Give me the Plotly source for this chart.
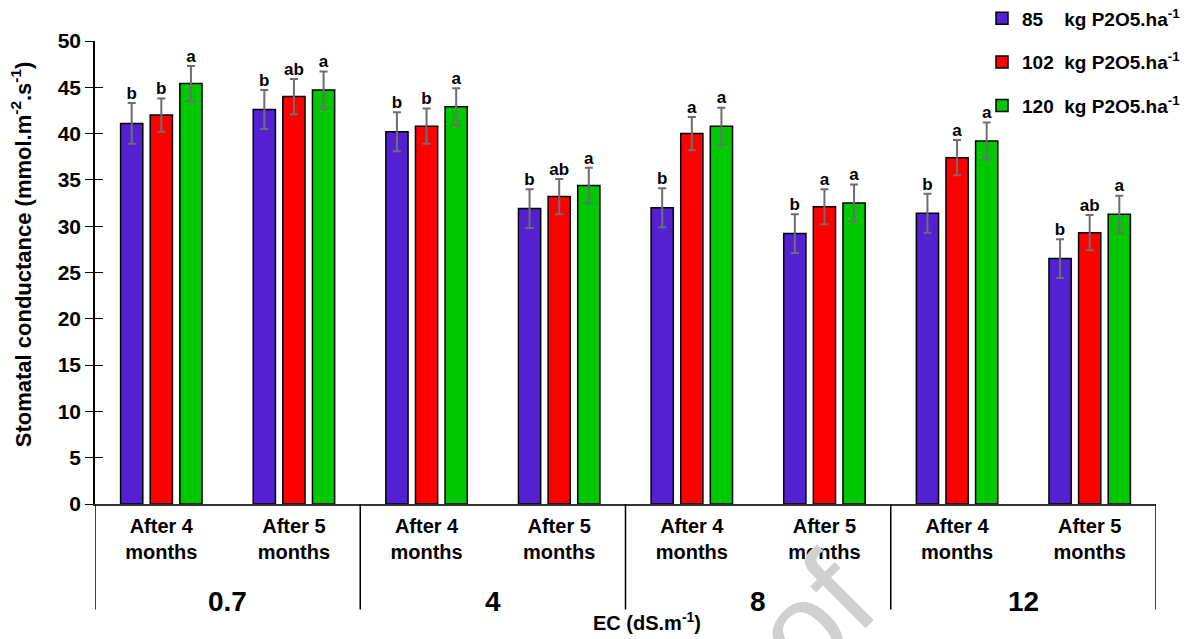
import plotly.graph_objects as go

groups = ["0.7", "4", "8", "12"]
periods = ["After 4<br>months", "After 5<br>months"]
series_names = ["85", "102", "120"]
colors = ["#5320D2", "#FF0000", "#00C800"]

vals_85 = [41.1, 42.6, 40.2, 31.9, 32.0, 29.2, 31.4, 26.5]
vals_102 = [42.0, 44.0, 40.8, 33.2, 40.0, 32.1, 37.4, 29.3]
vals_120 = [45.4, 44.7, 42.9, 34.4, 40.8, 32.5, 39.2, 31.3]

err_85 = [2.2, 2.1, 2.1, 2.1, 2.1, 2.1, 2.1, 2.1]
err_102 = [1.8, 1.9, 1.9, 1.9, 1.8, 1.9, 1.9, 1.9]
err_120 = [1.9, 2.0, 2.0, 1.9, 2.0, 2.0, 2.0, 2.0]

let_85 = ["b", "b", "b", "b", "b", "b", "b", "b"]
let_102 = ["b", "ab", "b", "ab", "a", "a", "a", "ab"]
let_120 = ["a", "a", "a", "a", "a", "a", "a", "a"]

yticks = [0, 5, 10, 15, 20, 25, 30, 35, 40, 45, 50]

FONT = "Liberation Sans, Arial, sans-serif"

cats = [f"{g}|{p}" for g in groups for p in periods]
ticktext = [p for g in groups for p in periods]

vals = [vals_85, vals_102, vals_120]
errs = [err_85, err_102, err_120]
lets = [let_85, let_102, let_120]

fig = go.Figure()
for i in range(3):
    pad = "\u00a0" * (4 if len(series_names[i]) == 2 else 2)
    fig.add_trace(go.Bar(
        x=cats, y=vals[i], name=series_names[i] + pad + "kg P2O5.ha<sup>-1</sup>",
        marker=dict(color=colors[i], line=dict(color="black", width=1.5)),
        error_y=dict(type="data", array=errs[i], visible=True, color="#6e6e6e", thickness=2, width=4),
        offsetgroup=str(i), legendgroup=str(i),
    ))
for i in range(3):
    fig.add_trace(go.Scatter(
        x=cats, y=[v + e for v, e in zip(vals[i], errs[i])], text=lets[i],
        mode="text", textposition="top center", offsetgroup=str(i),
        textfont=dict(family=FONT, size=17, color="black", weight=700),
        showlegend=False, hoverinfo="skip", cliponaxis=False,
    ))

fig.update_layout(
    width=1199, height=639,
    margin=dict(l=87, r=51, t=33, b=143, autoexpand=False),
    paper_bgcolor="white", plot_bgcolor="white",
    barmode="group", bargap=0.33, bargroupgap=0.25,
    scattermode="group", scattergap=0.33,
    font=dict(family=FONT, color="black"),
    showlegend=True,
    legend=dict(x=0.836, y=1.09, xanchor="left", yanchor="top",
                bgcolor="rgba(0,0,0,0)", tracegroupgap=16,
                font=dict(family=FONT, size=19, color="black", weight=700),
                itemwidth=30),
    xaxis=dict(type="category", categoryorder="array", categoryarray=cats,
               tickvals=cats, ticktext=ticktext, showline=True, linecolor="#333333",
               linewidth=1.5, ticks="", showgrid=False, range=[-0.5, 7.5],
               ticklabelstandoff=3,
               tickfont=dict(family=FONT, size=20, color="black", weight=700)),
    yaxis=dict(range=[0, 50], tickvals=yticks, showline=True, linecolor="black",
               linewidth=1.5, ticks="outside", ticklen=8, tickwidth=1.2, tickcolor="black",
               showgrid=False, zeroline=False,
               tickfont=dict(family=FONT, size=21, color="black", weight=700)),
    yaxis2=dict(range=[0, 50], tickvals=yticks, overlaying="y", side="left",
                ticks="inside", ticklen=8, tickwidth=1.2, tickcolor="black",
                showticklabels=False, showgrid=False, zeroline=False, showline=False),
)
fig.add_trace(go.Scatter(x=[cats[0]], y=[0], yaxis="y2", mode="markers",
                         marker=dict(opacity=0), showlegend=False, hoverinfo="skip"))

# faint diagonal watermark fragment
fig.add_annotation(x=0.677, xref="paper", y=-0.245, yref="paper", text="of",
                   textangle=-45, showarrow=False, xanchor="center", yanchor="middle",
                   font=dict(family=FONT, size=130, color="#d0d0d0"))

# group dividers below the axis
for xpos in [-0.5, 1.5, 3.5, 5.5, 7.5]:
    fig.add_shape(type="line", xref="x", yref="paper", x0=xpos, x1=xpos, y0=0, y1=-0.228,
                  line=dict(color="black", width=1.5))

# group labels
for gi, g in enumerate(groups):
    fig.add_annotation(x=gi * 2 + 0.5, xref="x", y=-0.21, yref="paper", text=g,
                       showarrow=False, yanchor="middle",
                       font=dict(family=FONT, size=28, color="black", weight=700))

fig.add_annotation(x=0.52, xref="paper", y=-0.254, yref="paper",
                   text="EC (dS.m<sup>-1</sup>)", showarrow=False, yanchor="middle",
                   font=dict(family=FONT, size=20, color="black", weight=700))
fig.add_annotation(x=-0.0695, xref="paper", y=0.54, yref="paper", textangle=-90,
                   text="Stomatal conductance (mmol.m<sup>-2</sup>.s<sup>-1</sup>)",
                   showarrow=False, xanchor="center", yanchor="middle",
                   font=dict(family=FONT, size=22, color="black", weight=700))

fig.write_html("out.html")
